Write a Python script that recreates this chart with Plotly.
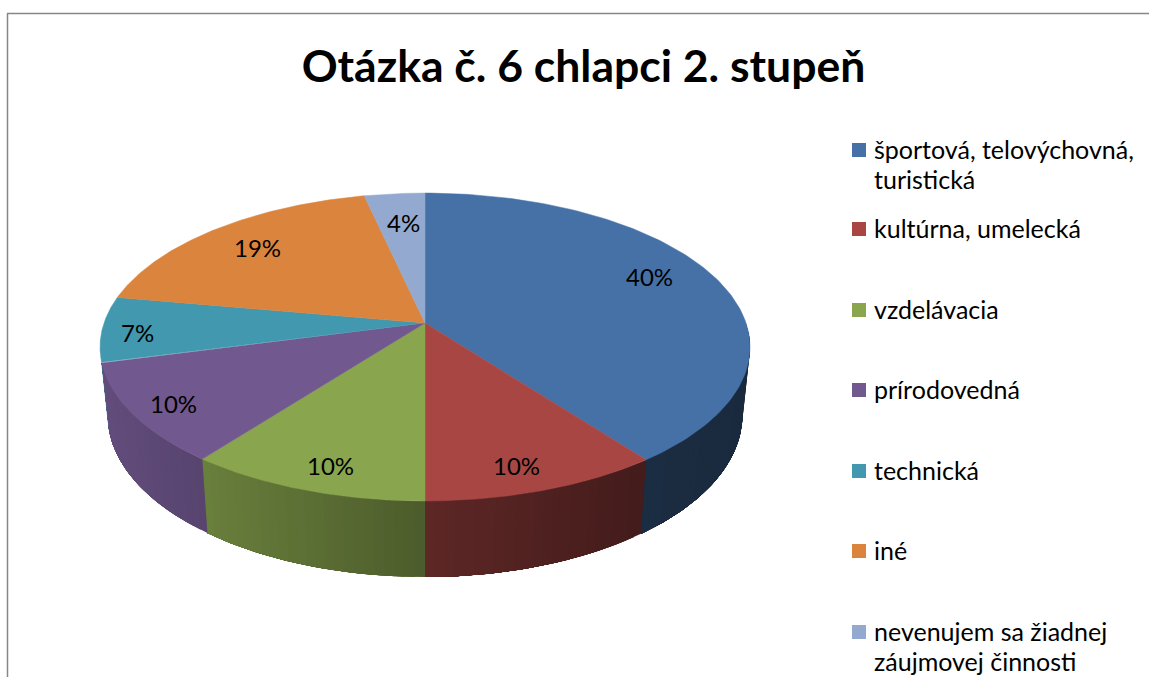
import numpy as np
import plotly.graph_objects as go

# ---- data ----
categories = ["športová, telovýchovná,<br>turistická", "kultúrna, umelecká", "vzdelávacia",
              "prírodovedná", "technická", "iné",
              "nevenujem sa žiadnej<br>záujmovej činnosti"]
values = [39.7, 10.3, 10.4, 10.49, 6.91, 18.7, 3.5]
title_text = "Otázka č. 6 chlapci 2. stupeň"

# ---- style ----
colors = ["#4571A7", "#A84644", "#89A54E", "#71588F", "#4198AF", "#DB843D", "#93A9CF"]
W, H = 1149, 677
CX, CY = 425.0, 323.0     # apex of the pie on the page
A, B, K = 150.2, 321.0, 0.156   # perspective projection of the pie circle
label_px = [(649, 278), (516, 467), (330, 467), (173, 405), (137, 334), (257, 249), (403, 224)]
legend_marker_x, legend_text_x, legend_line_h = 859, 874, 30
legend_y = [150, 229, 310, 390, 471, 551, 632]
shade_x = [100, 207, 425, 645, 750]
shade_f = [0.87, 0.77, 0.56, 0.40, 0.37]
FONT = "Lato"
WALL_END = np.pi + np.arccos(0.2)   # the wall is hidden past this angle on the left


def project(theta):
    """theta: clockwise from the top of the pie, radians."""
    c, s = np.sin(theta), -np.cos(theta)
    d = 1 - K * s
    return CX + B * c / d, CY + A * s / d, s


def base(theta):
    x, y, s = project(theta)
    return CX + 0.977 * (x - CX), y + 66 + 10 * s


def shade(hex_color, f):
    rgb = [int(hex_color[i:i + 2], 16) for i in (1, 3, 5)]
    return "rgb(%d,%d,%d)" % tuple(round(v * f) for v in rgb)


total = sum(values)
edges = np.concatenate([[0], np.cumsum(values)]) / total * 2 * np.pi

fig = go.Figure()

# side wall: painter's order, each band runs to the end of its slice so no seams show
for i, col in enumerate(colors):
    t0, t1 = edges[i], min(edges[i + 1], WALL_END)
    if t0 >= WALL_END:
        continue
    n = max(2, int(np.degrees(t1 - t0) / 1.5))
    ts = np.linspace(t0, t1, n + 1)
    for a in ts[:-1]:
        if -np.cos(a) < -0.02:
            continue
        arc = np.linspace(a, t1, 40)
        x_top, y_top, _ = project(arc)
        x_bot, y_bot = base(arc)
        c = shade(col, float(np.interp(project(a)[0], shade_x, shade_f)))
        fig.add_trace(go.Scatter(x=np.r_[x_top, x_bot[::-1], x_top[0]],
                                 y=np.r_[y_top, y_bot[::-1], y_top[0]],
                                 mode="lines", fill="toself", fillcolor=c,
                                 line=dict(width=0),
                                 hoverinfo="skip", showlegend=False))

# top face
for i, col in enumerate(colors):
    ts = np.linspace(edges[i], edges[i + 1], 120)
    x, y, _ = project(ts)
    fig.add_trace(go.Scatter(x=np.r_[CX, x, CX], y=np.r_[CY, y, CY],
                             mode="lines", fill="toself", fillcolor=col,
                             line=dict(color=col, width=0.5),
                             name=categories[i].replace("<br>", " "), hoverinfo="name",
                             showlegend=False))

# legend squares
fig.add_trace(go.Scatter(x=[legend_marker_x] * len(colors), y=legend_y, mode="markers",
                         marker=dict(symbol="square", size=14, color=colors),
                         hoverinfo="skip", showlegend=False))

# percent labels
annotations = [dict(x=px, y=py - 2, xref="x", yref="y", showarrow=False,
                    text=f"{round(v / total * 100)}%",
                    font=dict(family=FONT, size=24, color="#000000"))
               for v, (px, py) in zip(values, label_px)]

# legend texts
for cat, ly in zip(categories, legend_y):
    for k, part in enumerate(cat.split("<br>")):
        annotations.append(dict(x=legend_text_x, y=ly + k * legend_line_h - 1,
                                xref="x", yref="y", xanchor="left", yanchor="middle",
                                showarrow=False, text=part, xshift=-2,
                                font=dict(family=FONT, size=25, color="#000000")))

shapes = [dict(type="line", xref="x", yref="y", x0=7.5, x1=7.5, y0=13.5, y1=H,
               line=dict(color="#868686", width=1.5)),
          dict(type="line", xref="x", yref="y", x0=7, x1=W, y0=13.5, y1=13.5,
               line=dict(color="#868686", width=1.5))]

fig.update_layout(
    width=W, height=H, margin=dict(l=0, r=0, t=0, b=0),
    paper_bgcolor="white", plot_bgcolor="white",
    xaxis=dict(range=[0, W], visible=False, fixedrange=True),
    yaxis=dict(range=[H, 0], visible=False, fixedrange=True),
    title=dict(text=f"<b>{title_text}</b>", x=583.5 / W, xanchor="center",
               y=1 - 66 / H, yanchor="middle",
               font=dict(family=FONT, size=44.5, color="#000000")),
    annotations=annotations, shapes=shapes, showlegend=False,
)

fig.write_html("out.html", config={"displayModeBar": False},
               post_script="document.body.style.margin='0';document.documentElement.style.overflow='hidden';")
